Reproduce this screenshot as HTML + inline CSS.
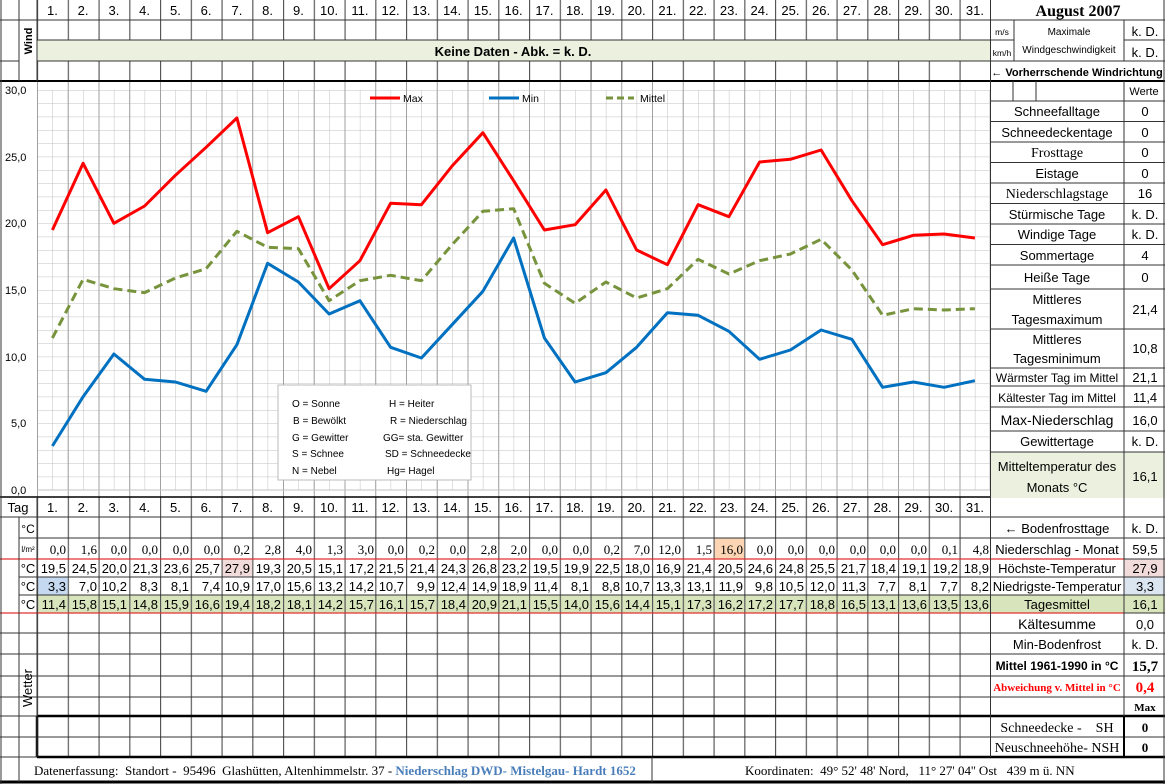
<!DOCTYPE html>
<html><head><meta charset="utf-8"><style>
html,body{margin:0;padding:0;background:#fff;}
svg{display:block;}
text{font-family:"Liberation Sans",sans-serif;fill:#000;white-space:pre;}
.s{font-family:"Liberation Serif",serif;}
.d{font-size:13px;text-anchor:end;}
.r{font-size:13px;text-anchor:end;font-family:"Liberation Serif",serif;}
.h{font-size:13px;text-anchor:middle;}
.c{text-anchor:middle;}
.lb{font-size:13px;text-anchor:middle;}
.red{fill:#ff0000;}
</style></head><body>
<svg width="1165" height="784" viewBox="0 0 1165 784" xmlns="http://www.w3.org/2000/svg" xml:space="preserve">
<defs>
<pattern id="g" x="37" y="90" width="15.375" height="13.333" patternUnits="userSpaceOnUse">
<path d="M0 0V13.333M0 0H15.375" stroke="#c0c0c0" stroke-width="1" fill="none"/>
</pattern>
<pattern id="vd" x="37" y="0" width="30.75" height="10" patternUnits="userSpaceOnUse">
<path d="M0.5 0V10" stroke="#555" stroke-width="1.3" fill="none"/>
</pattern>
<pattern id="vg" x="37" y="0" width="30.75" height="10" patternUnits="userSpaceOnUse">
<path d="M0.5 0V10" stroke="#a0a0a0" stroke-width="1" fill="none"/>
</pattern>
</defs>

<!-- backgrounds -->
<rect x="37" y="40" width="953" height="21" fill="#ebf1de"/>
<rect x="37" y="595" width="953" height="18" fill="#d8e4bc"/>
<rect x="991" y="595" width="174" height="18" fill="#d8e4bc"/>
<rect x="991" y="452" width="174" height="46" fill="#ebf1de"/>
<rect x="221.5" y="559" width="30.75" height="18" fill="#f2dcdb"/>
<rect x="1124" y="559" width="41" height="18" fill="#f2dcdb"/>
<rect x="37" y="577" width="30.75" height="18" fill="#c5d9f1"/>
<rect x="1124" y="577" width="41" height="18" fill="#dce6f1"/>
<rect x="713.5" y="538" width="30.75" height="21" fill="#fcd5b4"/>

<!-- chart grid -->
<rect x="37" y="90" width="953" height="400" fill="url(#g)"/>
<rect x="37" y="82" width="953" height="415" fill="url(#vg)"/>
<line x1="37" y1="490" x2="990" y2="490" stroke="#c0c0c0"/>
<line x1="990" y1="90" x2="990" y2="490" stroke="#c0c0c0"/>

<!-- table day column lines -->
<rect x="37" y="0" width="954" height="40" fill="url(#vd)"/>
<rect x="37" y="61" width="954" height="20" fill="url(#vd)"/>
<rect x="37" y="497" width="954" height="260" fill="url(#vd)"/>

<!-- horizontal lines top -->
<g stroke="#333" stroke-width="1">
<line x1="0" y1="20" x2="1165" y2="20"/>
<line x1="37" y1="40" x2="1014" y2="40"/>
<line x1="1124" y1="40" x2="1165" y2="40"/>
<line x1="37" y1="61" x2="1165" y2="61"/>
<line x1="0" y1="61" x2="19" y2="61"/>
</g>
<line x1="0" y1="81" x2="1165" y2="81" stroke="#000" stroke-width="2"/>
<line x1="0" y1="497" x2="991" y2="497" stroke="#000" stroke-width="1.5"/>

<!-- table rows -->
<g stroke="#333" stroke-width="1">
<line x1="0" y1="517" x2="1165" y2="517"/>
<line x1="19" y1="538" x2="1165" y2="538"/>
<line x1="19" y1="577" x2="1165" y2="577"/>
<line x1="19" y1="595" x2="1165" y2="595"/>
<line x1="0" y1="633" x2="1165" y2="633"/>
<line x1="0" y1="654" x2="1165" y2="654"/>
<line x1="0" y1="676" x2="1165" y2="676"/>
<line x1="0" y1="697" x2="1165" y2="697"/>
<line x1="0" y1="737" x2="1165" y2="737"/>
</g>
<line x1="0" y1="559" x2="1124" y2="559" stroke="#e03030" stroke-width="1.2"/>
<line x1="1124" y1="559" x2="1165" y2="559" stroke="#333"/>
<line x1="0" y1="613" x2="1124" y2="613" stroke="#e03030" stroke-width="1.2"/>
<line x1="1124" y1="613" x2="1165" y2="613" stroke="#333"/>
<line x1="37" y1="716" x2="1165" y2="716" stroke="#000" stroke-width="2.5"/>
<line x1="0" y1="716" x2="37" y2="716" stroke="#333"/>
<line x1="37" y1="757" x2="1165" y2="757" stroke="#000" stroke-width="2.5"/>
<line x1="0" y1="757" x2="37" y2="757" stroke="#333"/>
<line x1="0" y1="782" x2="1165" y2="782" stroke="#000" stroke-width="3"/>
<line x1="37" y1="716" x2="37" y2="757" stroke="#000" stroke-width="2.5"/>
<line x1="652" y1="757" x2="652" y2="782" stroke="#333"/>

<!-- left verticals -->
<g stroke="#333">
<line x1="19" y1="0" x2="19" y2="81"/>
<line x1="37" y1="0" x2="37" y2="81"/>
<line x1="19" y1="517" x2="19" y2="782"/>
<line x1="37" y1="497" x2="37" y2="757"/>
<line x1="1" y1="0" x2="1" y2="784"/>
</g>

<!-- right panel lines -->
<g stroke="#333" stroke-width="1">
<line x1="990.5" y1="0" x2="990.5" y2="757"/>
<line x1="1124" y1="20" x2="1124" y2="61"/>
<line x1="1014" y1="20" x2="1014" y2="61"/>
<line x1="1124" y1="81" x2="1124" y2="757"/>
<line x1="1013" y1="81" x2="1013" y2="101"/>
<line x1="1036" y1="81" x2="1036" y2="101"/>
<line x1="1164" y1="0" x2="1164" y2="784"/>
<line x1="990" y1="101" x2="1165" y2="101"/>
<line x1="990" y1="121.5" x2="1165" y2="121.5"/>
<line x1="990" y1="142" x2="1165" y2="142"/>
<line x1="990" y1="162.5" x2="1165" y2="162.5"/>
<line x1="990" y1="183" x2="1165" y2="183"/>
<line x1="990" y1="203.5" x2="1165" y2="203.5"/>
<line x1="990" y1="224" x2="1165" y2="224"/>
<line x1="990" y1="244.5" x2="1165" y2="244.5"/>
<line x1="990" y1="265" x2="1165" y2="265"/>
<line x1="990" y1="289" x2="1165" y2="289"/>
<line x1="990" y1="329" x2="1165" y2="329"/>
<line x1="990" y1="368" x2="1165" y2="368"/>
<line x1="990" y1="386" x2="1165" y2="386"/>
<line x1="990" y1="407" x2="1165" y2="407"/>
<line x1="990" y1="431" x2="1165" y2="431"/>
<line x1="990" y1="452" x2="1165" y2="452"/>
</g>
<line x1="1124" y1="716" x2="1124" y2="757" stroke="#000" stroke-width="2"/>

<!-- header day numbers -->
<g>
<text x="52.4" y="15" class="h">1.</text><text x="83.1" y="15" class="h">2.</text><text x="113.9" y="15" class="h">3.</text><text x="144.6" y="15" class="h">4.</text><text x="175.4" y="15" class="h">5.</text><text x="206.1" y="15" class="h">6.</text><text x="236.9" y="15" class="h">7.</text><text x="267.6" y="15" class="h">8.</text><text x="298.4" y="15" class="h">9.</text><text x="329.1" y="15" class="h">10.</text><text x="359.9" y="15" class="h">11.</text><text x="390.6" y="15" class="h">12.</text><text x="421.4" y="15" class="h">13.</text><text x="452.1" y="15" class="h">14.</text><text x="482.9" y="15" class="h">15.</text><text x="513.6" y="15" class="h">16.</text><text x="544.4" y="15" class="h">17.</text><text x="575.1" y="15" class="h">18.</text><text x="605.9" y="15" class="h">19.</text><text x="636.6" y="15" class="h">20.</text><text x="667.4" y="15" class="h">21.</text><text x="698.1" y="15" class="h">22.</text><text x="728.9" y="15" class="h">23.</text><text x="759.6" y="15" class="h">24.</text><text x="790.4" y="15" class="h">25.</text><text x="821.1" y="15" class="h">26.</text><text x="851.9" y="15" class="h">27.</text><text x="882.6" y="15" class="h">28.</text><text x="913.4" y="15" class="h">29.</text><text x="944.1" y="15" class="h">30.</text><text x="974.9" y="15" class="h">31.</text>
</g>
<text x="32" y="41" font-size="11" font-weight="bold" class="c" transform="rotate(-90 32 41)">Wind</text>
<text x="513" y="56" font-size="13" font-weight="bold" class="c">Keine Daten - Abk. = k. D.</text>

<!-- right top -->
<text x="1078" y="16" class="s c" font-size="16" font-weight="bold">August 2007</text>
<text x="1002" y="35" font-size="8.5" class="c">m/s</text>
<text x="1002" y="56" font-size="8.5" class="c">km/h</text>
<text x="1069" y="35" font-size="10" class="c">Maximale</text>
<text x="1069" y="53" font-size="10" class="c">Windgeschwindigkeit</text>
<text x="1145" y="36" font-size="13" class="c">k. D.</text>
<text x="1145" y="57" font-size="13" class="c">k. D.</text>
<text x="1077" y="76" font-size="11" font-weight="bold" class="c">← Vorherrschende Windrichtung</text>
<text x="1144" y="95" font-size="11" class="c">Werte</text>

<g>
<text x="1057" y="116" class="lb">Schneefalltage</text><text x="1145" y="116" class="lb">0</text>
<text x="1057" y="137" class="lb">Schneedeckentage</text><text x="1145" y="137" class="lb">0</text>
<text x="1057" y="157" class="lb s" font-size="14" style="font-size:14px">Frosttage</text><text x="1145" y="157" class="lb">0</text>
<text x="1057" y="178" class="lb">Eistage</text><text x="1145" y="178" class="lb">0</text>
<text x="1057" y="198" class="lb s" style="font-size:14px">Niederschlagstage</text><text x="1145" y="198" class="lb">16</text>
<text x="1057" y="219" class="lb">Stürmische Tage</text><text x="1145" y="219" class="lb">k. D.</text>
<text x="1057" y="239" class="lb">Windige Tage</text><text x="1145" y="239" class="lb">k. D.</text>
<text x="1057" y="260" class="lb">Sommertage</text><text x="1145" y="260" class="lb">4</text>
<text x="1057" y="282" class="lb">Heiße Tage</text><text x="1145" y="282" class="lb">0</text>
<text x="1057" y="304" class="lb">Mittleres</text><text x="1057" y="324" class="lb">Tagesmaximum</text><text x="1145" y="314" class="lb">21,4</text>
<text x="1057" y="344" class="lb">Mittleres</text><text x="1057" y="363" class="lb">Tagesminimum</text><text x="1145" y="353" class="lb">10,8</text>
<text x="1057" y="382" font-size="12" class="c">Wärmster Tag im Mittel</text><text x="1145" y="382" class="lb">21,1</text>
<text x="1057" y="402" font-size="12" class="c">Kältester Tag im Mittel</text><text x="1145" y="402" class="lb">11,4</text>
<text x="1057" y="425" font-size="14" class="c">Max-Niederschlag</text><text x="1145" y="425" class="lb">16,0</text>
<text x="1057" y="446" class="lb">Gewittertage</text><text x="1145" y="446" class="lb">k. D.</text>
<text x="1057" y="471" class="lb">Mitteltemperatur des</text><text x="1057" y="492" class="lb">Monats °C</text><text x="1145" y="481" class="lb">16,1</text>
</g>

<!-- chart -->
<g font-size="11">
<text x="5" y="94">30,0</text><text x="5" y="161">25,0</text><text x="5" y="227">20,0</text><text x="5" y="294">15,0</text><text x="5" y="361">10,0</text><text x="11" y="427">5,0</text><text x="11" y="494">0,0</text>
</g>
<polyline fill="none" stroke="#ff0000" stroke-width="3" stroke-linejoin="round" points="52.4,230 83.1,163.3 113.9,223.3 144.6,206 175.4,175.3 206.1,147.3 236.9,118 267.6,232.7 298.4,216.7 329.1,288.7 359.9,260.7 390.6,203.3 421.4,204.7 452.1,166 482.9,132.7 513.6,180.7 544.4,230 575.1,224.7 605.9,190 636.6,250 667.4,264.7 698.1,204.7 728.9,216.7 759.6,162 790.4,159.3 821.1,150 851.9,200.7 882.6,244.7 913.4,235.3 944.1,234 974.9,238"/>
<polyline fill="none" stroke="#0070c0" stroke-width="3" stroke-linejoin="round" points="52.4,446 83.1,396.7 113.9,354 144.6,379.3 175.4,382 206.1,391.3 236.9,344.7 267.6,263.3 298.4,282 329.1,314 359.9,300.7 390.6,347.3 421.4,358 452.1,324.7 482.9,291.3 513.6,238 544.4,338 575.1,382 605.9,372.7 636.6,347.3 667.4,312.7 698.1,315.3 728.9,331.3 759.6,359.3 790.4,350 821.1,330 851.9,339.3 882.6,387.3 913.4,382 944.1,387.3 974.9,380.7"/>
<polyline fill="none" stroke="#77933c" stroke-width="3" stroke-dasharray="9,5" stroke-linejoin="round" points="52.4,338 83.1,279.3 113.9,288.7 144.6,292.7 175.4,278 206.1,268.7 236.9,231.3 267.6,247.3 298.4,248.7 329.1,300.7 359.9,280.7 390.6,275.3 421.4,280.7 452.1,244.7 482.9,211.3 513.6,208.7 544.4,283.3 575.1,303.3 605.9,282 636.6,298 667.4,288.7 698.1,259.3 728.9,274 759.6,260.7 790.4,254 821.1,239.3 851.9,270 882.6,315.3 913.4,308.7 944.1,310 974.9,308.7"/>
<!-- legend -->
<line x1="370" y1="98" x2="400" y2="98" stroke="#ff0000" stroke-width="3"/><text x="403" y="102" font-size="10.5">Max</text>
<line x1="489" y1="98" x2="519" y2="98" stroke="#0070c0" stroke-width="3"/><text x="522" y="102" font-size="10.5">Min</text>
<line x1="606" y1="98" x2="634" y2="98" stroke="#77933c" stroke-width="3" stroke-dasharray="7,4"/><text x="640" y="102" font-size="10.5">Mittel</text>
<rect x="278" y="385" width="193" height="95" fill="#fff" stroke="#bbb"/>
<g font-size="10">
<text x="292" y="407">O = Sonne</text><text x="389" y="407">H = Heiter</text>
<text x="293" y="424">B = Bewölkt</text><text x="390" y="424">R = Niederschlag</text>
<text x="292" y="441">G = Gewitter</text><text x="383" y="441">GG= sta. Gewitter</text>
<text x="292" y="457">S = Schnee</text><text x="385" y="457">SD = Schneedecke</text>
<text x="292" y="474">N = Nebel</text><text x="387" y="474">Hg= Hagel</text>
</g>

<!-- lower table labels -->
<text x="18" y="512" class="h">Tag</text>
<text x="28" y="533" font-size="12" class="c">°C</text>
<text x="28" y="552" font-size="8" class="c">l/m²</text>
<text x="28" y="573" font-size="13" class="c">°C</text>
<text x="28" y="591" font-size="13" class="c">°C</text>
<text x="28" y="609" font-size="13" class="c">°C</text>
<text x="32" y="688" font-size="13" class="c" transform="rotate(-90 32 688)">Wetter</text>

<g>
<text x="52.4" y="512" class="h">1.</text><text x="83.1" y="512" class="h">2.</text><text x="113.9" y="512" class="h">3.</text><text x="144.6" y="512" class="h">4.</text><text x="175.4" y="512" class="h">5.</text><text x="206.1" y="512" class="h">6.</text><text x="236.9" y="512" class="h">7.</text><text x="267.6" y="512" class="h">8.</text><text x="298.4" y="512" class="h">9.</text><text x="329.1" y="512" class="h">10.</text><text x="359.9" y="512" class="h">11.</text><text x="390.6" y="512" class="h">12.</text><text x="421.4" y="512" class="h">13.</text><text x="452.1" y="512" class="h">14.</text><text x="482.9" y="512" class="h">15.</text><text x="513.6" y="512" class="h">16.</text><text x="544.4" y="512" class="h">17.</text><text x="575.1" y="512" class="h">18.</text><text x="605.9" y="512" class="h">19.</text><text x="636.6" y="512" class="h">20.</text><text x="667.4" y="512" class="h">21.</text><text x="698.1" y="512" class="h">22.</text><text x="728.9" y="512" class="h">23.</text><text x="759.6" y="512" class="h">24.</text><text x="790.4" y="512" class="h">25.</text><text x="821.1" y="512" class="h">26.</text><text x="851.9" y="512" class="h">27.</text><text x="882.6" y="512" class="h">28.</text><text x="913.4" y="512" class="h">29.</text><text x="944.1" y="512" class="h">30.</text><text x="974.9" y="512" class="h">31.</text>
</g>

<!-- rain -->
<g>
<text x="66" y="554" class="r">0,0</text><text x="97" y="554" class="r">1,6</text><text x="127" y="554" class="r">0,0</text><text x="158" y="554" class="r">0,0</text><text x="189" y="554" class="r">0,0</text><text x="220" y="554" class="r">0,0</text><text x="250" y="554" class="r">0,2</text><text x="281" y="554" class="r">2,8</text><text x="312" y="554" class="r">4,0</text><text x="343" y="554" class="r">1,3</text><text x="374" y="554" class="r">3,0</text><text x="404" y="554" class="r">0,0</text><text x="435" y="554" class="r">0,2</text><text x="466" y="554" class="r">0,0</text><text x="497" y="554" class="r">2,8</text><text x="527" y="554" class="r">2,0</text><text x="558" y="554" class="r">0,0</text><text x="589" y="554" class="r">0,0</text><text x="620" y="554" class="r">0,2</text><text x="650" y="554" class="r">7,0</text><text x="681" y="554" class="r">12,0</text><text x="712" y="554" class="r">1,5</text><text x="743" y="554" class="r">16,0</text><text x="773" y="554" class="r">0,0</text><text x="804" y="554" class="r">0,0</text><text x="835" y="554" class="r">0,0</text><text x="866" y="554" class="r">0,0</text><text x="896" y="554" class="r">0,0</text><text x="927" y="554" class="r">0,0</text><text x="958" y="554" class="r">0,1</text><text x="989" y="554" class="r">4,8</text>
</g>
<!-- max -->
<g>
<text x="66" y="573" class="d">19,5</text><text x="97" y="573" class="d">24,5</text><text x="127" y="573" class="d">20,0</text><text x="158" y="573" class="d">21,3</text><text x="189" y="573" class="d">23,6</text><text x="220" y="573" class="d">25,7</text><text x="250" y="573" class="d">27,9</text><text x="281" y="573" class="d">19,3</text><text x="312" y="573" class="d">20,5</text><text x="343" y="573" class="d">15,1</text><text x="374" y="573" class="d">17,2</text><text x="404" y="573" class="d">21,5</text><text x="435" y="573" class="d">21,4</text><text x="466" y="573" class="d">24,3</text><text x="497" y="573" class="d">26,8</text><text x="527" y="573" class="d">23,2</text><text x="558" y="573" class="d">19,5</text><text x="589" y="573" class="d">19,9</text><text x="620" y="573" class="d">22,5</text><text x="650" y="573" class="d">18,0</text><text x="681" y="573" class="d">16,9</text><text x="712" y="573" class="d">21,4</text><text x="743" y="573" class="d">20,5</text><text x="773" y="573" class="d">24,6</text><text x="804" y="573" class="d">24,8</text><text x="835" y="573" class="d">25,5</text><text x="866" y="573" class="d">21,7</text><text x="896" y="573" class="d">18,4</text><text x="927" y="573" class="d">19,1</text><text x="958" y="573" class="d">19,2</text><text x="989" y="573" class="d">18,9</text>
</g>
<!-- min -->
<g>
<text x="66" y="591" class="d">3,3</text><text x="97" y="591" class="d">7,0</text><text x="127" y="591" class="d">10,2</text><text x="158" y="591" class="d">8,3</text><text x="189" y="591" class="d">8,1</text><text x="220" y="591" class="d">7,4</text><text x="250" y="591" class="d">10,9</text><text x="281" y="591" class="d">17,0</text><text x="312" y="591" class="d">15,6</text><text x="343" y="591" class="d">13,2</text><text x="374" y="591" class="d">14,2</text><text x="404" y="591" class="d">10,7</text><text x="435" y="591" class="d">9,9</text><text x="466" y="591" class="d">12,4</text><text x="497" y="591" class="d">14,9</text><text x="527" y="591" class="d">18,9</text><text x="558" y="591" class="d">11,4</text><text x="589" y="591" class="d">8,1</text><text x="620" y="591" class="d">8,8</text><text x="650" y="591" class="d">10,7</text><text x="681" y="591" class="d">13,3</text><text x="712" y="591" class="d">13,1</text><text x="743" y="591" class="d">11,9</text><text x="773" y="591" class="d">9,8</text><text x="804" y="591" class="d">10,5</text><text x="835" y="591" class="d">12,0</text><text x="866" y="591" class="d">11,3</text><text x="896" y="591" class="d">7,7</text><text x="927" y="591" class="d">8,1</text><text x="958" y="591" class="d">7,7</text><text x="989" y="591" class="d">8,2</text>
</g>
<!-- mittel -->
<g>
<text x="66" y="609" class="d">11,4</text><text x="97" y="609" class="d">15,8</text><text x="127" y="609" class="d">15,1</text><text x="158" y="609" class="d">14,8</text><text x="189" y="609" class="d">15,9</text><text x="220" y="609" class="d">16,6</text><text x="250" y="609" class="d">19,4</text><text x="281" y="609" class="d">18,2</text><text x="312" y="609" class="d">18,1</text><text x="343" y="609" class="d">14,2</text><text x="374" y="609" class="d">15,7</text><text x="404" y="609" class="d">16,1</text><text x="435" y="609" class="d">15,7</text><text x="466" y="609" class="d">18,4</text><text x="497" y="609" class="d">20,9</text><text x="527" y="609" class="d">21,1</text><text x="558" y="609" class="d">15,5</text><text x="589" y="609" class="d">14,0</text><text x="620" y="609" class="d">15,6</text><text x="650" y="609" class="d">14,4</text><text x="681" y="609" class="d">15,1</text><text x="712" y="609" class="d">17,3</text><text x="743" y="609" class="d">16,2</text><text x="773" y="609" class="d">17,2</text><text x="804" y="609" class="d">17,7</text><text x="835" y="609" class="d">18,8</text><text x="866" y="609" class="d">16,5</text><text x="896" y="609" class="d">13,1</text><text x="927" y="609" class="d">13,6</text><text x="958" y="609" class="d">13,5</text><text x="989" y="609" class="d">13,6</text>
</g>

<!-- right lower panel -->
<text x="1057" y="533" font-size="13" class="c">← Bodenfrosttage</text><text x="1145" y="533" font-size="13" class="c">k. D.</text>
<text x="1057" y="554" font-size="13" class="c">Niederschlag - Monat</text><text x="1145" y="554" font-size="13" class="c">59,5</text>
<text x="1057" y="573" font-size="13" class="c">Höchste-Temperatur</text><text x="1145" y="573" font-size="13" class="c">27,9</text>
<text x="1057" y="591" font-size="13" class="c">Niedrigste-Temperatur</text><text x="1145" y="591" font-size="13" class="c">3,3</text>
<text x="1057" y="609" font-size="13" class="c">Tagesmittel</text><text x="1145" y="609" font-size="13" class="c">16,1</text>
<text x="1057" y="629" font-size="14" class="c">Kältesumme</text><text x="1145" y="629" font-size="13" class="c">0,0</text>
<text x="1057" y="649" font-size="13" class="c">Min-Bodenfrost</text><text x="1145" y="649" font-size="13" class="c">k. D.</text>
<text x="1057" y="670" font-size="12" font-weight="bold" class="c">Mittel 1961-1990 in °C</text><text x="1145" y="671" font-size="15" font-weight="bold" class="s c">15,7</text>
<text x="1057" y="691" font-size="11" font-weight="bold" class="s c red">Abweichung v. Mittel in °C</text><text x="1145" y="692" font-size="15" font-weight="bold" class="s c red">0,4</text>
<text x="1145" y="711" font-size="11" font-weight="bold" class="s c">Max</text>
<text x="1057" y="732" font-size="14" class="s c">Schneedecke -    SH</text><text x="1145" y="732" font-size="13" font-weight="bold" class="s c">0</text>
<text x="1057" y="752" font-size="14" class="s c">Neuschneehöhe- NSH</text><text x="1145" y="752" font-size="13" font-weight="bold" class="s c">0</text>

<!-- footer -->
<text x="34" y="775" font-size="13" class="s">Datenerfassung:  Standort -  95496  Glashütten, Altenhimmelstr. 37 - <tspan style="fill:#4a7ebb" font-weight="bold">Niederschlag DWD- Mistelgau- Hardt 1652</tspan></text>
<text x="745" y="775" font-size="13" class="s">Koordinaten:  49° 52' 48' Nord,   11° 27' 04'' Ost   439 m ü. NN</text>
</svg>
</body></html>
